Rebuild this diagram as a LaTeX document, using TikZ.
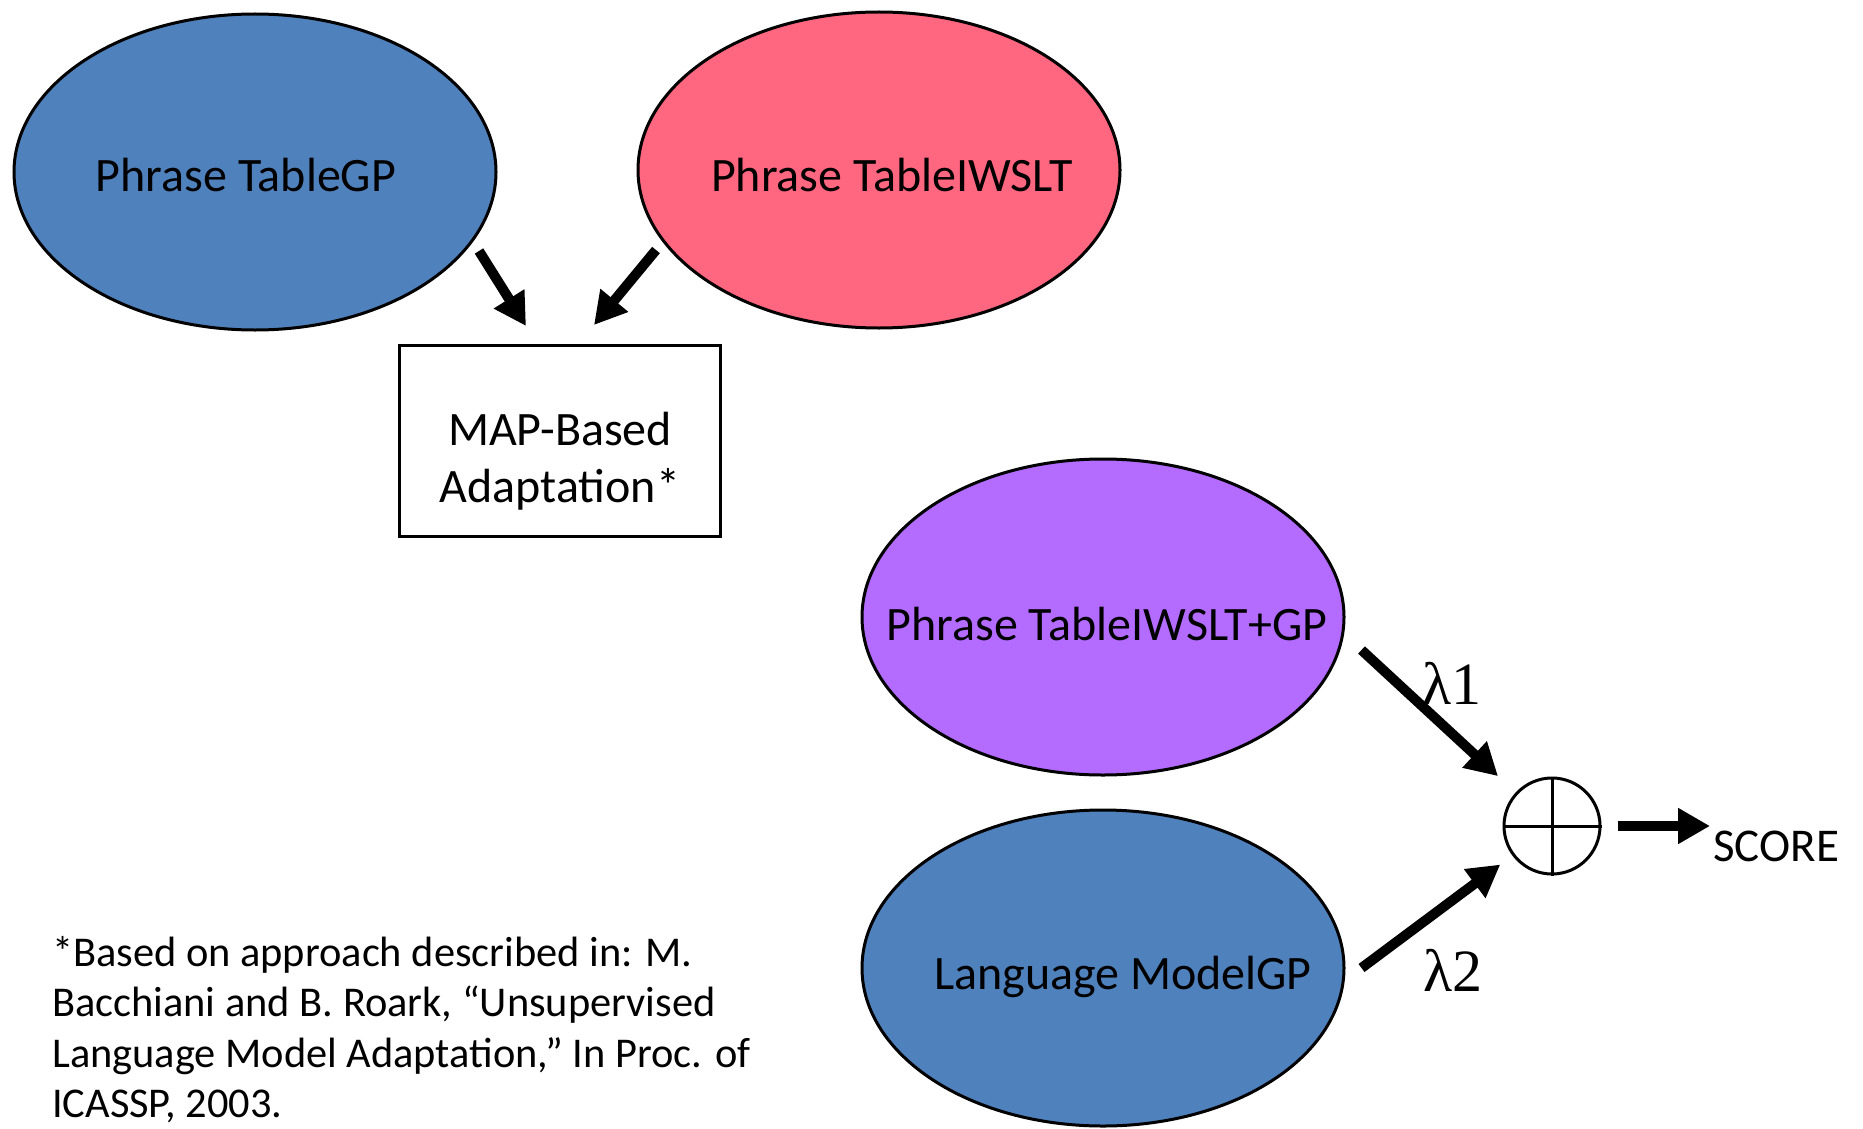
\documentclass[tikz,border=0pt]{standalone}
\usepackage{fontspec}
\setmainfont{Carlito}
\newfontfamily\lamfont{Liberation Serif}
\usetikzlibrary{shapes.geometric,arrows.meta,calc}
\definecolor{gpblue}{RGB}{79,129,189}
\definecolor{iwpink}{RGB}{255,102,128}
\definecolor{mixpurple}{RGB}{179,108,255}
\tikzset{
  oval/.style={ellipse,draw=black,line width=3pt,minimum width=482pt,minimum height=316pt,inner sep=0pt},
  lbl/.style={font=\fontsize{48}{57}\selectfont,inner sep=0pt},
  fat/.style={line width=10pt,-{Triangle[length=32pt,width=34pt]}},
  lam/.style={font=\lamfont\fontsize{60}{64}\selectfont,inner sep=0pt}
}
\begin{document}
\begin{tikzpicture}[x=1pt,y=-1pt]
\useasboundingbox (0,0) rectangle (1863,1129);
\node[oval,fill=gpblue] (g1) at (255,172) {};
\node[lbl] (g1t) at (246,175) {Phrase TableGP};
\node[oval,fill=iwpink] (pk) at (879,170) {};
\node[lbl] (pkt) at (892,175) {Phrase TableIWSLT};
\node[draw=black,line width=3pt,minimum width=321pt,minimum height=191pt,inner sep=0pt] (map) at (560,441) {};
\node[lbl,align=center,font=\fontsize{48}{57}\selectfont] (mapt) at (560,461) {MAP-Based\\Adaptation*};
\node[oval,fill=mixpurple] (pt) at (1103,617) {};
\node[lbl] (ptt) at (1107,624) {Phrase TableIWSLT+GP};
\node[oval,fill=gpblue] (lm) at (1103,968) {};
\node[lbl] (lmt) at (1123,977) {Language ModelGP};
\node[circle,draw=black,line width=3pt,minimum size=96pt,inner sep=0pt] (op) at (1552,826) {};
\draw[line width=3pt] (op.north) -- (op.south) (op.west) -- (op.east);
\node[lbl,anchor=west,font=\fontsize{47}{50}\selectfont] (score) at (1713,846) {SCORE};
\draw[fat] ($(g1.center)+(224,79)$) -- ($(map.north)+(-34,-18)$);
\draw[fat] ($(pk.center)+(-223,80)$) -- ($(map.north)+(34,-19)$);
\draw[fat] ($(pt.east)+(16,33)$) -- (op) [shorten >=24pt];
\draw[fat,shorten >=15pt] ($(lm.east)+(16,0)$) -- (op);
\draw[fat,shorten <=16pt,shorten >=3pt] (op.east) -- (op.east -| score.west);
\node[lam] (l1) at (1452,683) {λ1};
\node[lam] (l2) at (1453,970) {λ2};
\node[anchor=north west,align=left,inner sep=0pt,font=\fontsize{42.4}{50.5}\selectfont] (note) at (52,936) {*Based on approach described in: M.\\Bacchiani and B. Roark, “Unsupervised\\Language Model Adaptation,” In Proc. of\\ICASSP, 2003.};
\end{tikzpicture}
\end{document}
